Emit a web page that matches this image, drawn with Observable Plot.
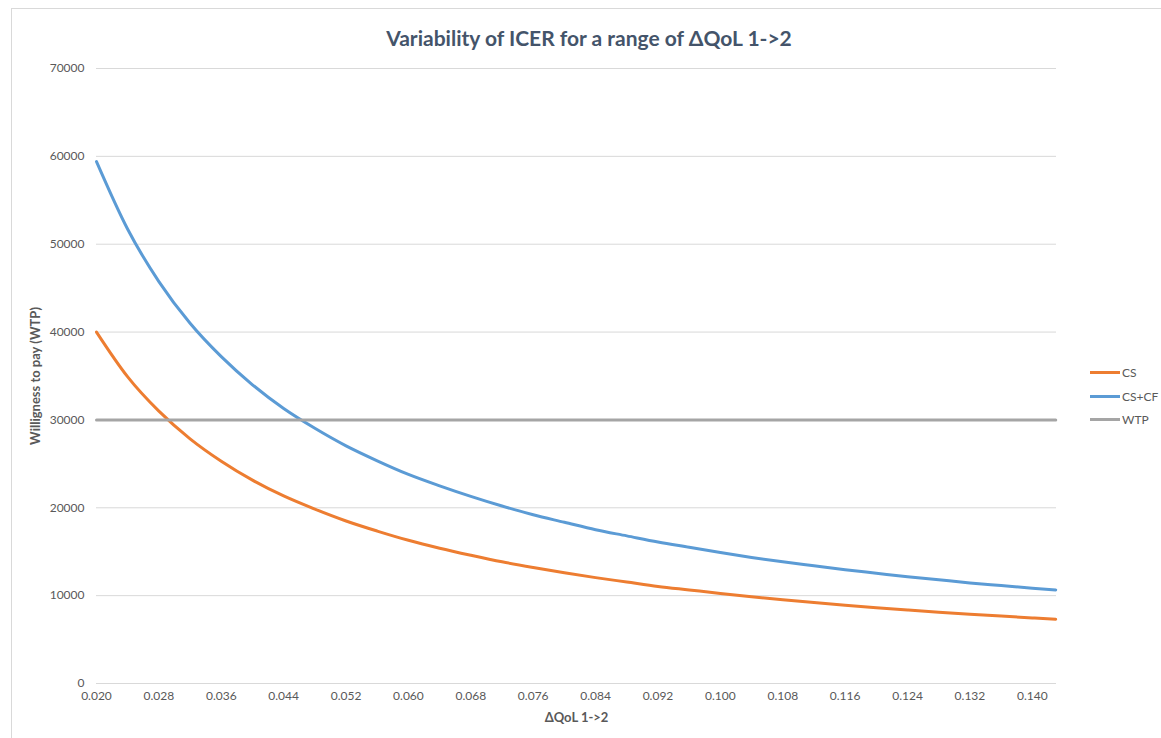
<!DOCTYPE html>
<html>
<head>
<meta charset="utf-8">
<script src="https://cdn.jsdelivr.net/npm/d3@7"></script>
<script src="https://cdn.jsdelivr.net/npm/@observablehq/plot@0.6"></script>
<style>
  body { margin: 0; background: #fff; font-family: Lato, "Open Sans", sans-serif; }
  #wrap { position: relative; width: 1161px; height: 738px; overflow: hidden; background: #fff; }
  #frame { position: absolute; left: 11px; top: 8px; width: 1200px; height: 800px; border: 1px solid #D9D9D9; box-sizing: border-box; }
  #title { position: absolute; top: 25px; left: 0; width: 1178px; text-align: center; font-size: 21px; font-weight: bold; color: #44546A; font-family: Lato, "Open Sans", sans-serif; }
  #chart { position: absolute; left: 0; top: 0; }
  #legend { position: absolute; left: 1090px; top: 361px; font-size: 12px; color: #595959; }
  .item { display: flex; align-items: center; height: 23.5px; }
  .sw { width: 30px; height: 3px; margin-right: 2px; }
  g[aria-label="y-axis label"] text, g[aria-label="x-axis label"] text { font-weight: bold; font-size: 13px; }
</style>
</head>
<body>
<div id="wrap">
  <div id="frame"></div>
  <div id="chart"></div>
  <div id="title">Variability of ICER for a range of ΔQoL 1-&gt;2</div>
  <div id="legend"></div>
</div>
<script>
// ΔQoL 1->2 values
const dQoL = [0.020, 0.024, 0.028, 0.032, 0.036, 0.040, 0.044, 0.048, 0.052, 0.056,
              0.060, 0.064, 0.068, 0.072, 0.076, 0.080, 0.084, 0.088, 0.092, 0.096,
              0.100, 0.104, 0.108, 0.112, 0.116, 0.120, 0.124, 0.128, 0.132, 0.136,
              0.140, 0.143];
// ICER readings
const csValues = [40000, 34900, 31000, 27850, 25300, 23150, 21350, 19850, 18500, 17350,
                  16300, 15400, 14600, 13850, 13200, 12600, 12050, 11550, 11050, 10650,
                  10250, 9870, 9530, 9210, 8910, 8630, 8370, 8120, 7890, 7670,
                  7460, 7310];
const cscfValues = [59400, 51700, 45750, 41000, 37200, 34000, 31300, 29050, 27050, 25350,
                    23800, 22500, 21300, 20200, 19200, 18350, 17500, 16800, 16100, 15500,
                    14900, 14350, 13850, 13400, 12950, 12550, 12150, 11800, 11450, 11150,
                    10850, 10650];
const wtpValues = [30000, 30000, 30000, 30000, 30000, 30000, 30000, 30000, 30000, 30000,
                   30000, 30000, 30000, 30000, 30000, 30000, 30000, 30000, 30000, 30000,
                   30000, 30000, 30000, 30000, 30000, 30000, 30000, 30000, 30000, 30000,
                   30000, 30000];

const seriesNames = ["CS", "CS+CF", "WTP"];
const seriesColors = ["#ED7D31", "#5B9BD5", "#A5A5A5"];
const xTicks = [0.020, 0.028, 0.036, 0.044, 0.052, 0.060, 0.068, 0.076, 0.084, 0.092,
                0.100, 0.108, 0.116, 0.124, 0.132, 0.140];
const yTicks = [0, 10000, 20000, 30000, 40000, 50000, 60000, 70000];

const allValues = [csValues, cscfValues, wtpValues];
const rows = [];
seriesNames.forEach((s, i) => {
  dQoL.forEach((x, j) => rows.push({series: s, x, y: allValues[i][j]}));
});

const chart = Plot.plot({
  width: 1161,
  height: 738,
  marginLeft: 96,
  marginRight: 105,
  marginTop: 68,
  marginBottom: 55,
  style: { fontFamily: 'Lato, "Open Sans", sans-serif', fontSize: "12px", color: "#595959", background: "transparent" },
  x: { domain: [0.020, 0.1431] },
  y: { domain: [0, 70000] },
  color: { domain: seriesNames, range: seriesColors },
  marks: [
    Plot.gridY(yTicks, { stroke: "#D9D9D9", strokeOpacity: 1, strokeWidth: 1 }),
    Plot.axisX({ ticks: xTicks, tickFormat: d3.format(".3f"), tickSize: 0, tickPadding: 8,
                 label: "ΔQoL 1->2", labelAnchor: "center", labelArrow: "none", labelOffset: 38, fill: "#595959" }),
    Plot.axisY({ ticks: yTicks, tickFormat: d => String(d), tickSize: 0, tickPadding: 12,
                 label: "Willigness to pay (WTP)", labelAnchor: "center", labelArrow: "none", labelOffset: 66, fill: "#595959" }),
    Plot.line(rows, { x: "x", y: "y", z: "series", stroke: "series", strokeWidth: 3, curve: "monotone-x" })
  ]
});
document.getElementById("chart").appendChild(chart);

const legend = document.getElementById("legend");
seriesNames.forEach((s, i) => {
  const item = document.createElement("div");
  item.className = "item";
  const sw = document.createElement("div");
  sw.className = "sw";
  sw.style.background = seriesColors[i];
  const label = document.createElement("span");
  label.textContent = s;
  item.appendChild(sw);
  item.appendChild(label);
  legend.appendChild(item);
});
</script>
</body>
</html>
